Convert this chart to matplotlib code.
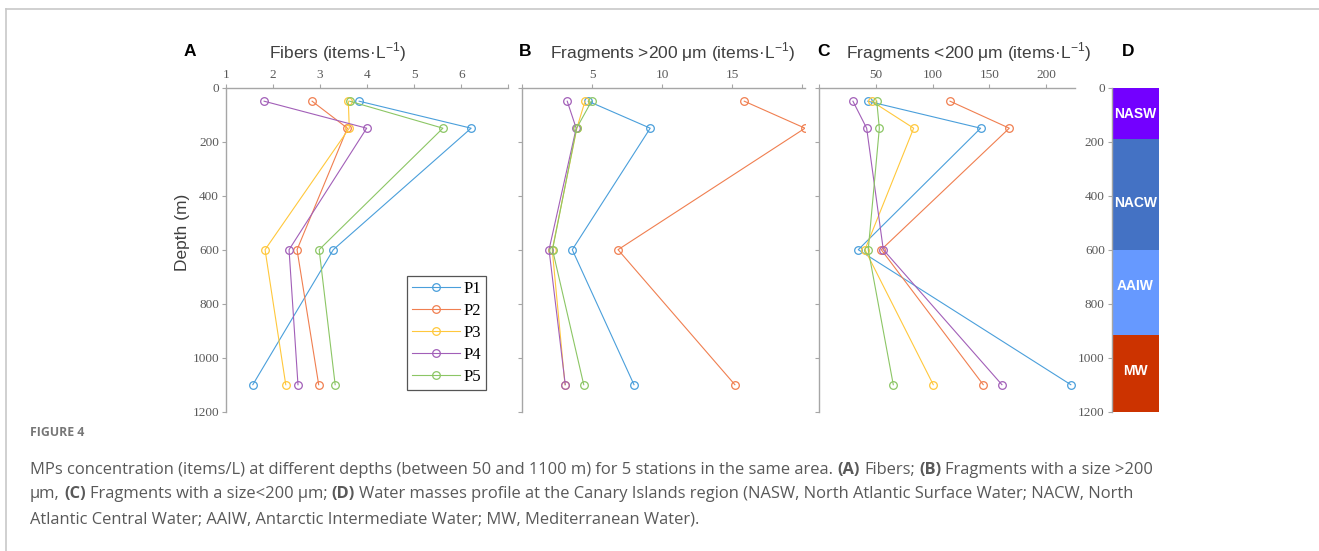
import matplotlib
matplotlib.use("Agg")
import matplotlib.pyplot as plt
from matplotlib.lines import Line2D

plt.rcParams["mathtext.fontset"] = "custom"
plt.rcParams["mathtext.rm"] = "Liberation Sans"

# Sampling depths (m) and concentrations per station
depth = [50, 150, 600, 1100]
stations = ["P1", "P2", "P3", "P4", "P5"]

fibers = {
    "P1": [3.83, 6.21, 3.28, 1.57],
    "P2": [2.83, 3.58, 2.51, 2.97],
    "P3": [3.60, 3.62, 1.83, 2.27],
    "P4": [1.81, 3.99, 2.34, 2.53],
    "P5": [3.63, 5.61, 2.98, 3.32],
}
frag_large = {
    "P1": [4.71, 9.14, 3.57, 7.98],
    "P2": [15.86, 20.2, 6.84, 15.19],
    "P3": [4.48, 3.90, 2.14, 3.05],
    "P4": [3.21, 3.85, 1.91, 3.07],
    "P5": [4.95, 3.88, 2.16, 4.39],
}
frag_small = {
    "P1": [42.7, 142.4, 34.4, 222.0],
    "P2": [115.4, 167.7, 54.7, 144.7],
    "P3": [46.2, 83.3, 40.3, 100.6],
    "P4": [29.7, 41.8, 56.5, 161.2],
    "P5": [50.7, 53.0, 43.2, 65.3],
}

# Water masses (name, top, bottom, label depth in m)
mass_names = ["NASW", "NACW", "AAIW", "MW"]
mass_top = [0, 190, 600, 915]
mass_bottom = [190, 600, 915, 1200]
mass_label_depth = [97, 426, 734, 1048]
mass_colors = ["#7300ff", "#4472c4", "#6699ff", "#cc3300"]

colors = ["#4a9fdb", "#f07f50", "#ffc83c", "#a25fb8", "#8cc665"]

W, H = 1319, 551
fig = plt.figure(figsize=(W / 100, H / 100), dpi=100)


def fx(px):
    return px / W


def fy(py):
    return 1 - py / H


def add_panel(x0, x1):
    return fig.add_axes([fx(x0), fy(411.7), fx(x1 - x0), (411.7 - 87.7) / H])


spine_col = "#a6a6a6"
tick_col = "#595959"
serif = "Liberation Serif"


def style(ax, xlim, xticks, xlabels, ylabels=False):
    ax.set_ylim(1200, 0)
    ax.set_xlim(*xlim)
    ax.xaxis.tick_top()
    ax.set_xticks(xticks)
    ax.set_xticklabels(xlabels)
    ax.set_yticks(range(0, 1201, 200))
    if not ylabels:
        ax.set_yticklabels([])
    for s in ["right", "bottom"]:
        ax.spines[s].set_visible(False)
    for s in ["top", "left"]:
        ax.spines[s].set_color(spine_col)
        ax.spines[s].set_linewidth(1.0)
    ax.tick_params(axis="both", direction="out", length=3, width=0.8,
                   color=spine_col, labelcolor=tick_col, labelsize=9.5, pad=2)
    for lab in ax.get_xticklabels() + ax.get_yticklabels():
        lab.set_family(serif)


def draw_profiles(ax, data):
    for st, c in zip(stations, colors):
        ax.plot(data[st], depth, color=c, lw=0.8, marker="o", ms=5.5,
                mfc="none", mec=c, mew=0.9, label=st)


axA = add_panel(226, 508.3)
draw_profiles(axA, fibers)
style(axA, (1, 7), range(1, 8), ["1", "2", "3", "4", "5", "6", ""], ylabels=True)

axB = add_panel(522.3, 805)
draw_profiles(axB, frag_large)
style(axB, (0, 20.2), [0, 5, 10, 15, 20], ["", "5", "10", "15", ""])

axC = add_panel(819.3, 1075)
draw_profiles(axC, frag_small)
style(axC, (0, 225.7), [0, 50, 100, 150, 200], ["", "50", "100", "150", "200"])

# Water mass column
axD = add_panel(1111.7, 1159)
axD.bar([0] * len(mass_names),
        [b - t for t, b in zip(mass_top, mass_bottom)],
        bottom=mass_top, width=1, color=mass_colors, align="edge")
for name, yl in zip(mass_names, mass_label_depth):
    axD.text(0.5, yl, name, ha="center", va="center", color="white",
             fontsize=10, fontweight="bold", family="Liberation Sans")
style(axD, (0, 1), [], [], ylabels=True)
axD.spines["top"].set_visible(False)

leg = axA.legend(loc="upper left", bbox_to_anchor=(fx(407), fy(276)),
                 bbox_transform=fig.transFigure, borderaxespad=0,
                 fancybox=False, edgecolor="#555555", framealpha=1,
                 prop={"family": serif, "size": 12}, handlelength=2.9,
                 handletextpad=0.2, labelspacing=0.36, borderpad=0.3)
leg.get_frame().set_linewidth(0.9)

# Panel letters and headers
title_kw = dict(fontsize=12.5, family="Liberation Sans", color="#404040",
                ha="center", va="center")
for letter, x in zip("ABCD", [190, 525, 824, 1128]):
    fig.text(fx(x), fy(52), letter, fontsize=12.5, fontweight="bold",
             family="Liberation Sans", ha="center", va="center")
fig.text(fx(338), fy(52), r"Fibers (items·L$^{\mathregular{-1}}$)", **title_kw)
fig.text(fx(673), fy(52), r"Fragments >200 μm (items·L$^{\mathregular{-1}}$)", **title_kw)
fig.text(fx(969), fy(52), r"Fragments <200 μm (items·L$^{\mathregular{-1}}$)", **title_kw)
fig.text(fx(183), fy(232), "Depth (m)", rotation=90, **title_kw)

# Frame lines
fig.add_artist(Line2D([fx(6), 1], [fy(9), fy(9)], color="#c8c8c8", lw=1.2))
fig.add_artist(Line2D([fx(6), fx(6)], [fy(9), 0], color="#c8c8c8", lw=1.2))

# Caption
cap_font = "Open Sans"
cap_col = "#595959"
fig.text(fx(30), fy(433), "FIGURE 4", fontsize=8.8, family=cap_font,
         color="#777777", fontweight="bold", va="center")

renderer = fig.canvas.get_renderer()
cap_size = 11.85


def text_width(s, weight):
    t = fig.text(0, 0, s, fontsize=cap_size, family=cap_font, fontweight=weight)
    w = t.get_window_extent(renderer).width
    t.remove()
    return w


space_w = text_width("a a", "normal") - text_width("aa", "normal")


def caption_line(y, parts):
    x = 30
    for s, bold in parts:
        weight = "bold" if bold else "normal"
        fig.text(fx(x), fy(y), s, fontsize=cap_size, family=cap_font,
                 fontweight=weight, color=cap_col, va="center")
        x += text_width(s, weight) + space_w


caption_line(470, [
    ("MPs concentration (items/L) at different depths (between 50 and 1100 m) "
     "for 5 stations in the same area.", False),
    ("(A)", True), ("Fibers;", False), ("(B)", True),
    ("Fragments with a size >200", False)])
caption_line(494, [
    ("μm,", False), ("(C)", True), ("Fragments with a size<200 μm;", False),
    ("(D)", True),
    ("Water masses profile at the Canary Islands region (NASW, North Atlantic "
     "Surface Water; NACW, North", False)])
caption_line(519, [
    ("Atlantic Central Water; AAIW, Antarctic Intermediate Water; MW, "
     "Mediterranean Water).", False)])

fig.savefig("out.png", dpi=100)
